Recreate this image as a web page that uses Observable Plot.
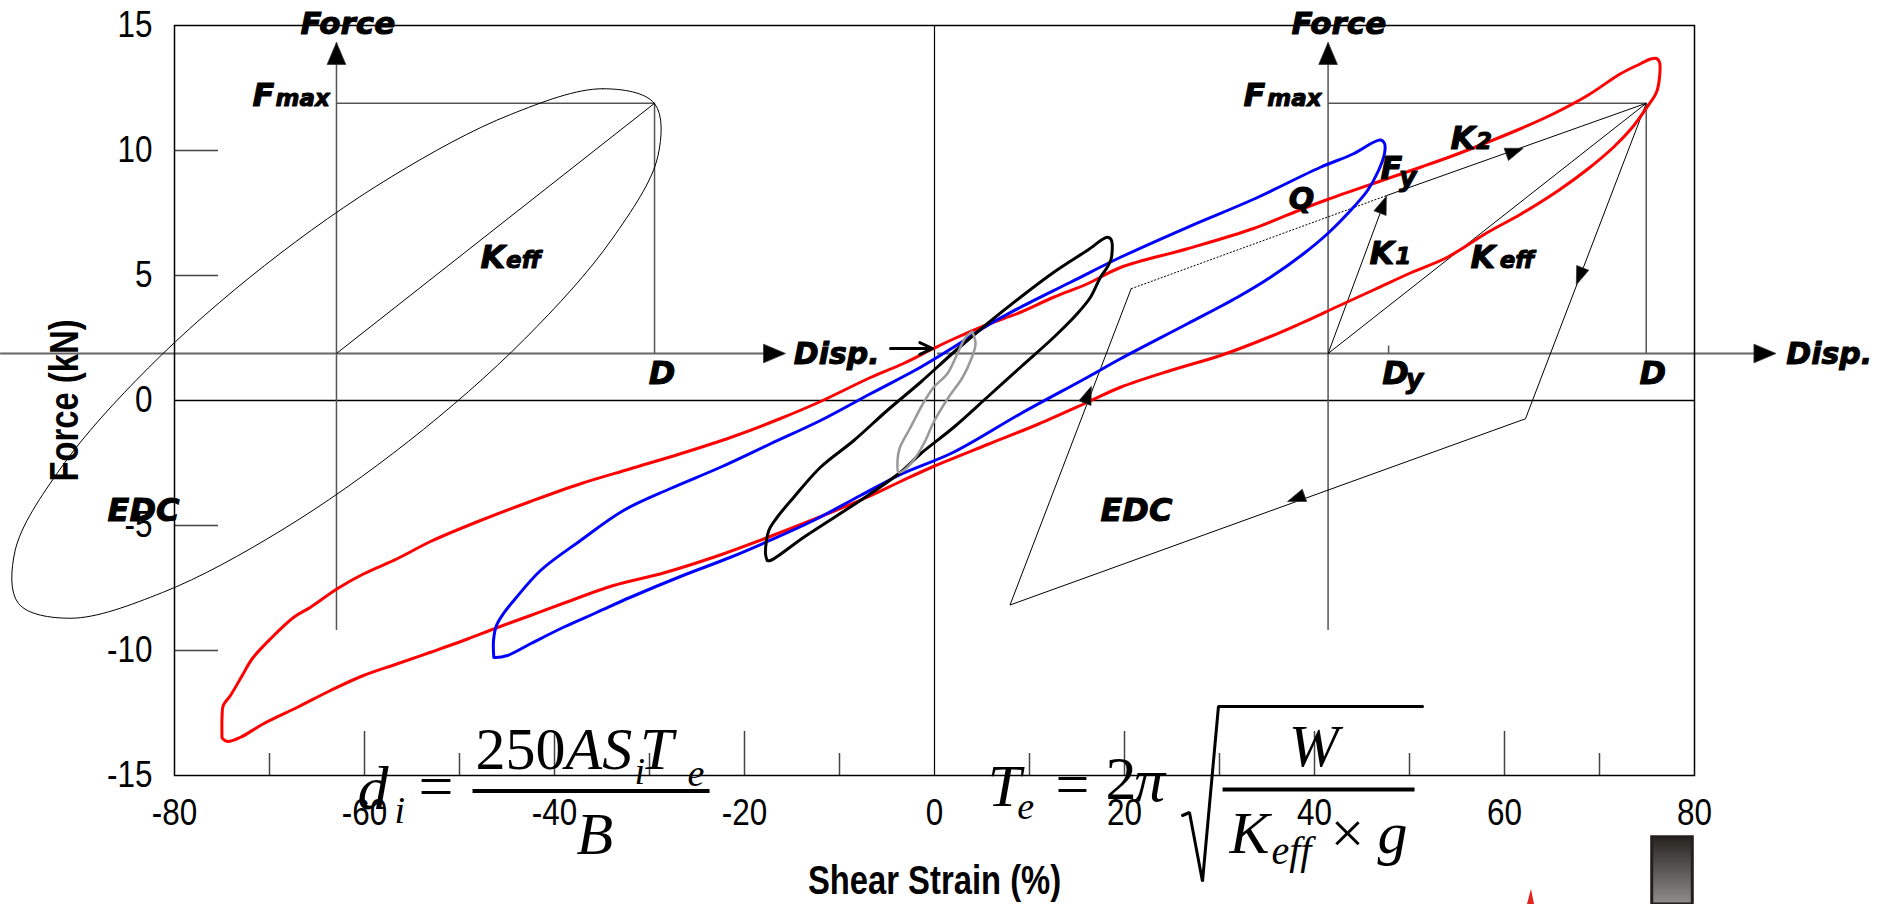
<!DOCTYPE html>
<html>
<head>
<meta charset="utf-8">
<script src="https://cdn.jsdelivr.net/npm/d3@7"></script>
<script src="https://cdn.jsdelivr.net/npm/@observablehq/plot@0.6"></script>
<style>
  html, body { margin: 0; padding: 0; background: #fff; }
  svg { display: block; }
</style>
</head>
<body>
<div id="chart"></div>
<script>
// ---------- DATA ----------
const xTicks = [-80, -60, -40, -20, 0, 20, 40, 60, 80];
const yTicks = [-15, -10, -5, 0, 5, 10, 15];
const xMajorInner = [-60, -40, -20, 20, 40, 60];
const xMinorInner = [-70, -50, -30, -10, 10, 30, 50, 70];
const yInner = [-10, -5, 5, 10];

// hysteresis loops: [shear strain %, force kN]
const redLoop = [
  [-75.0,-13.48],[-74.99,-12.6],[-74.87,-12.2],[-74.11,-11.8],[-72.87,-11.0],[-71.82,-10.33],[-69.89,-9.53],
  [-67.44,-8.67],[-65.68,-8.27],[-62.87,-7.53],[-60.07,-6.93],[-56.56,-6.33],[-53.05,-5.64],[-47.79,-4.8],
  [-42.53,-4.04],[-37.26,-3.33],[-32.0,-2.73],[-26.74,-2.13],[-21.47,-1.48],[-16.21,-0.72],[-12.0,-0.04],
  [-6.74,0.92],[-3.26,1.48],[-0.21,2.06],[2.0,2.46],[5.58,3.04],[9.05,3.53],[12.53,4.13],[16.11,4.67],
  [19.58,5.32],[26.63,6.07],[33.58,6.88],[38.84,7.68],[41.37,8.04],[46.95,8.78],[51.16,9.33],[54.63,9.8],
  [58.21,10.33],[61.68,10.87],[65.16,11.47],[68.74,12.2],[72.21,13.07],[74.32,13.47],[75.37,13.66],
  [76.0,13.68],[76.32,13.53],[76.32,12.93],[76.0,12.33],
  [75.0,11.73],[73.47,10.93],[71.47,10.13],[68.84,9.28],[65.68,8.4],[61.79,7.47],[58.21,6.72],[54.0,5.73],
  [50.21,5.12],[46.32,4.44],[42.42,3.76],[38.53,3.08],[35.37,2.56],[30.11,1.8],[24.84,1.2],[19.58,0.53],
  [16.11,-0.07],[10.84,-0.96],[5.58,-1.76],[-0.11,-2.64],[-3.58,-3.24],[-7.47,-3.93],[-12.74,-4.76],
  [-17.58,-5.48],[-23.26,-6.27],[-28.53,-6.9],[-33.79,-7.4],[-38.84,-8.08],[-42.53,-8.6],[-46.0,-9.08],
  [-49.58,-9.6],[-53.05,-10.07],[-56.53,-10.53],[-60.11,-11.0],[-63.58,-11.6],[-67.05,-12.27],
  [-70.63,-12.93],[-73.05,-13.47],[-74.42,-13.64],[-74.95,-13.52],[-75.0,-13.48]
];
const blueLoop = [
  [-46.39,-10.27],[-46.42,-9.6],[-46.11,-9.0],[-45.37,-8.52],[-44.28,-8.0],[-41.47,-6.8],[-37.26,-5.6],
  [-32.74,-4.4],[-27.79,-3.52],[-22.53,-2.67],[-17.26,-1.73],[-12.0,-0.8],[-6.74,0.27],[-1.47,1.33],
  [2.0,2.13],[5.58,3.0],[9.05,3.73],[14.32,4.73],[19.58,5.73],[26.63,6.93],[33.58,8.05],[40.63,9.33],
  [44.11,9.87],[46.21,10.33],[46.95,10.42],[47.37,10.28],[47.37,9.88],[46.74,9.2],[45.58,8.4],[43.47,7.47],
  [41.37,6.67],[38.84,5.87],[35.37,4.93],[31.89,4.13],[26.63,3.07],[19.58,1.67],[16.11,0.93],[9.05,-0.53],
  [2.0,-2.07],[-3.58,-2.96],[-7.79,-3.8],[-12.74,-4.8],[-17.58,-5.64],[-21.47,-6.27],[-26.74,-7.04],
  [-32.0,-7.87],[-35.51,-8.47],[-39.05,-9.07],[-42.53,-9.73],[-44.95,-10.2],[-46.21,-10.28],[-46.39,-10.27]
];
const blackLoop = [
  [-17.61,-6.4],[-17.79,-6.13],[-17.44,-5.2],[-16.56,-4.67],[-14.81,-3.87],[-12.0,-2.67],[-8.49,-1.6],
  [-4.98,-0.4],[-1.47,0.73],[2.03,1.93],[5.55,3.07],[9.05,4.13],[12.56,5.13],[16.07,6.0],[18.18,6.53],
  [18.6,6.43],[18.6,5.67],[18.18,5.33],[17.47,4.93],[16.42,4.13],[15.02,3.47],[12.56,2.53],[9.05,1.33],
  [5.55,0.13],[2.03,-1.07],[-1.47,-2.13],[-3.58,-2.87],[-6.74,-3.73],[-10.24,-4.6],[-13.76,-5.47],
  [-17.26,-6.4],[-17.61,-6.4]
];
const grayLoop = [
  [3.97,2.76],[4.32,2.28],[3.89,1.68],[2.95,0.92],[1.47,0.12],[-0.11,-0.88],[-0.95,-1.6],[-2.0,-2.28],
  [-3.26,-2.8],[-3.79,-2.88],[-3.89,-2.4],[-3.68,-1.92],[-2.53,-1.08],[-1.26,-0.16],[-0.11,0.52],
  [1.37,1.08],[2.42,1.88],[3.26,2.52],[3.97,2.76]
];

// schematic (left: elliptical loop, right: bilinear loop)
const originL = [-62.95, 1.88], peakL = [-29.47, 11.89];
const originR = [41.43, 1.88], peakR = [74.92, 11.89];
const yieldPt = [47.6, 8.2];
const unloadPath = [[74.92, 11.89], [62.21, -0.73], [7.95, -8.18], [20.7, 4.47]];
const ellipse = [
  [-29.48,11.88],[-34.92,12.47],[-44.63,11.44],[-57.12,8.96],[-70.51,5.40],[-82.76,1.30],[-91.96,-2.70],
  [-96.78,-6.01],[-96.42,-8.12],[-90.98,-8.71],[-81.26,-7.68],[-68.78,-5.20],[-55.39,-1.64],[-43.14,2.46],
  [-33.94,6.46],[-29.12,9.77]
];
const axisTopY = 14.3, axisBottomY = -9.2;
const dispAxisL = [-98.3, -16.0], dispAxisR = [0.3, 87.5];

const arrowHeads = [
  {x: -62.95, y: 13.75, a: 0, r: 11}, {x: 41.43, y: 13.75, a: 0, r: 11},
  {x: -17.19, y: 1.88, a: 90, r: 11}, {x: 87.07, y: 1.88, a: 90, r: 11},
  {x: 47.13, y: 7.73, a: 20.6, r: 9}, {x: 60.81, y: 9.93, a: 70.4, r: 9},
  {x: 68.0, y: 5.07, a: 200.9, r: 9}, {x: 38.32, y: -3.88, a: 250.1, r: 9},
  {x: 16.07, y: 0.13, a: 20.9, r: 9}
];

const labels = [
  {t: "Force", x: -66.74, y: 14.68, s: 31}, {t: "Force", x: 37.58, y: 14.68, s: 31},
  {t: "F", x: -71.79, y: 11.8, s: 32}, {t: "max", x: -69.37, y: 11.8, s: 23},
  {t: "F", x: 32.53, y: 11.8, s: 32}, {t: "max", x: 35.02, y: 11.8, s: 23},
  {t: "K", x: -47.79, y: 5.32, s: 32}, {t: "eff", x: -45.1, y: 5.32, s: 23},
  {t: "K", x: 56.42, y: 5.32, s: 32}, {t: "eff", x: 59.5, y: 5.32, s: 23},
  {t: "K", x: 45.79, y: 5.47, s: 32}, {t: "1", x: 48.5, y: 5.47, s: 23},
  {t: "K", x: 54.32, y: 10.07, s: 32}, {t: "2", x: 57.0, y: 10.07, s: 23},
  {t: "F", x: 46.95, y: 8.87, s: 32}, {t: "y", x: 48.9, y: 8.6, s: 27},
  {t: "Q", x: 37.29, y: 7.67, s: 30},
  {t: "D", x: 47.13, y: 0.67, s: 32}, {t: "y", x: 49.6, y: 0.5, s: 27},
  {t: "D", x: 74.21, y: 0.67, s: 32}, {t: "D", x: -30.07, y: 0.67, s: 32},
  {t: "Disp.", x: -14.81, y: 1.47, s: 30}, {t: "Disp.", x: 89.66, y: 1.47, s: 30},
  {t: "EDC", x: -87.05, y: -4.8, s: 32}, {t: "EDC", x: 17.47, y: -4.8, s: 32}
];

const formulaItalic = [
  {t: "d", x: -60.74, y: -16.32, s: 62}, {t: "i", x: -56.84, y: -16.88, s: 38},
  {t: "AS", x: -38.84, y: -14.72, s: 60}, {t: "i", x: -31.58, y: -15.32, s: 38},
  {t: "T", x: -31.0, y: -14.72, s: 60}, {t: "e", x: -26.0, y: -15.4, s: 38},
  {t: "B", x: -37.68, y: -18.12, s: 60},
  {t: "T", x: 5.6, y: -16.2, s: 60}, {t: "e", x: 8.7, y: -16.72, s: 38},
  {t: "π", x: 21.0, y: -16.0, s: 62},
  {t: "W", x: 37.3, y: -14.6, s: 60},
  {t: "K", x: 31.05, y: -18.08, s: 60}, {t: "eff", x: 35.47, y: -18.52, s: 40},
  {t: "g", x: 46.63, y: -18.08, s: 60}
];
const formulaRoman = [
  {t: "=", x: -54.32, y: -16.24, s: 62}, {t: "250", x: -48.32, y: -14.72, s: 60},
  {t: "=", x: 12.74, y: -16.12, s: 60}, {t: "2", x: 18.0, y: -15.92, s: 62},
  {t: "×", x: 41.68, y: -18.08, s: 60}
];
const fractionBars = [{x1: -48.63, x2: -23.68, y: -15.62}, {x1: 30.32, x2: 50.53, y: -15.56}];
const radical = [[26.11,-16.6],[26.84,-16.48],[28.21,-19.24],[29.89,-12.24],[51.37,-12.24]];

const gradBox = [{x1: 75.55, x2: 79.82, y1: -17.47, y2: -20.16}];
const redWedge = [{x: 62.42, y: -20.16}, {x: 62.84, y: -19.56}, {x: 63.16, y: -20.16}];

// ---------- HELPERS ----------
function triSym(angleDeg, hw = 0.85) {
  const a = angleDeg * Math.PI / 180, c = Math.cos(a), s = Math.sin(a);
  return {draw(ctx, size) {
    const r = Math.sqrt(size / Math.PI);
    const pts = [[0, -1.3 * r], [hw * r, 0.7 * r], [-hw * r, 0.7 * r]];
    pts.forEach(([x, y], i) => {
      const X = x * c - y * s, Y = x * s + y * c;
      i ? ctx.lineTo(X, Y) : ctx.moveTo(X, Y);
    });
    ctx.closePath();
  }};
}
const px = d => d[0], py = d => d[1];
const boldItalic = {fontFamily: "'DejaVu Sans', sans-serif", fontWeight: "bold", fontStyle: "italic"};
const sans = "'Liberation Sans', Arial, sans-serif";
const serif = "'Liberation Serif', 'Times New Roman', serif";

const chart = Plot.plot({
  width: 1878, height: 904,
  marginLeft: 174, marginRight: 184, marginTop: 25, marginBottom: 129,
  x: {domain: [-80, 80]},
  y: {domain: [-15, 15]},
  style: {background: "white", overflow: "visible"},
  marks: [
    Plot.rect(gradBox, {x1: "x1", x2: "x2", y1: "y1", y2: "y2", fill: "url(#boxGrad)", stroke: "#231f1c", strokeWidth: 3}),
    Plot.areaY(redWedge, {x: "x", y1: () => -20.16, y2: "y", fill: "#e3231f"}),

    Plot.ruleY(yInner, {x1: -80, x2: -75.37, stroke: "#444", strokeWidth: 1.5}),
    Plot.ruleX(xMajorInner, {y1: -15, y2: -13.24, stroke: "#444", strokeWidth: 1.5}),
    Plot.ruleX(xMinorInner, {y1: -15, y2: -14.12, stroke: "#444", strokeWidth: 1.5}),
    Plot.ruleY([0], {x1: -80, x2: 80, stroke: "black", strokeWidth: 1.5}),
    Plot.ruleX([0], {y1: -15, y2: 15, stroke: "black", strokeWidth: 1.2}),

    Plot.ruleX([originL[0], originR[0]], {y1: axisBottomY, y2: axisTopY, stroke: "#555", strokeWidth: 1.5}),
    Plot.ruleY([originL[1]], {x1: dispAxisL[0], x2: dispAxisL[1], stroke: "#666", strokeWidth: 2}),
    Plot.ruleY([originR[1]], {x1: dispAxisR[0], x2: dispAxisR[1], stroke: "#666", strokeWidth: 2}),
    Plot.link([{x1: originL[0], x2: peakL[0], y: peakL[1]}, {x1: originR[0], x2: peakR[0], y: peakR[1]}],
      {x1: "x1", x2: "x2", y1: "y", y2: "y", stroke: "#555", strokeWidth: 1.5}),
    Plot.link([{x: peakL[0], y1: originL[1], y2: peakL[1]}, {x: peakR[0], y1: originR[1], y2: peakR[1]}],
      {x1: "x", x2: "x", y1: "y1", y2: "y2", stroke: "#555", strokeWidth: 1.5}),
    Plot.link([{x: 47.8, y1: 1.88, y2: 2.2}], {x1: "x", x2: "x", y1: "y1", y2: "y2", stroke: "#555", strokeWidth: 1.5}),
    Plot.link([
      {x1: originL[0], y1: originL[1], x2: peakL[0], y2: peakL[1]},
      {x1: originR[0], y1: originR[1], x2: peakR[0], y2: peakR[1]},
      {x1: originR[0], y1: originR[1], x2: yieldPt[0], y2: yieldPt[1]},
      {x1: yieldPt[0], y1: yieldPt[1], x2: peakR[0], y2: peakR[1]}
    ], {x1: "x1", y1: "y1", x2: "x2", y2: "y2", stroke: "black", strokeWidth: 1}),
    Plot.line(unloadPath, {x: px, y: py, stroke: "black", strokeWidth: 1}),
    Plot.link([{x1: unloadPath[3][0], y1: unloadPath[3][1], x2: yieldPt[0], y2: yieldPt[1]}],
      {x1: "x1", y1: "y1", x2: "x2", y2: "y2", stroke: "black", strokeWidth: 1, strokeDasharray: "2,1.5"}),
    Plot.line(ellipse, {x: px, y: py, curve: "catmull-rom-closed", stroke: "black", strokeWidth: 1}),

    Plot.line(redLoop, {x: px, y: py, stroke: "#ff0000", strokeWidth: 3, curve: "catmull-rom"}),
    Plot.line(blueLoop, {x: px, y: py, stroke: "#0000ff", strokeWidth: 3, curve: "catmull-rom"}),
    Plot.line(blackLoop, {x: px, y: py, stroke: "black", strokeWidth: 3, curve: "catmull-rom"}),
    Plot.line(grayLoop, {x: px, y: py, stroke: "#999", strokeWidth: 2.5, curve: "catmull-rom"}),

    ...arrowHeads.map(a => Plot.dot([a], {x: "x", y: "y", r: a.r, symbol: triSym(a.a, a.r > 10 ? 0.85 : 0.72), fill: "black", stroke: "#333", strokeWidth: 0.8})),
    Plot.arrow([{x1: -4.63, x2: -0.21, y: 2.08}], {x1: "x1", x2: "x2", y1: "y", y2: "y", stroke: "black", strokeWidth: 3, headLength: 14, headAngle: 50}),

    Plot.text(labels, {x: "x", y: "y", text: "t", fontSize: "s", textAnchor: "start", lineAnchor: "bottom",
      ...boldItalic, fill: "black", stroke: "black", strokeWidth: 1}),

    Plot.frame({stroke: "black", strokeWidth: 1.5}),

    Plot.axisX(xTicks, {tickSize: 0, tickPadding: 23, fontSize: 37, fontFamily: sans, tickFormat: d => String(d), label: null}),
    Plot.axisY(yTicks, {tickSize: 0, tickPadding: 22, fontSize: 37, fontFamily: sans, tickFormat: d => String(d), label: null}),
    Plot.text(["Force (kN)"], {x: -91.47, y: 0, text: d => d, rotate: -90, fontSize: 40, fontWeight: "bold", fontFamily: sans, lineAnchor: "middle"}),
    Plot.text(["Shear Strain (%)"], {x: 0, y: -19.72, text: d => d, fontSize: 40, fontWeight: "bold", fontFamily: sans, lineAnchor: "bottom"}),

    Plot.link(fractionBars, {x1: "x1", x2: "x2", y1: "y", y2: "y", stroke: "black", strokeWidth: 4}),
    Plot.line(radical, {x: px, y: py, stroke: "black", strokeWidth: 3, strokeLinejoin: "miter"}),
    Plot.text(formulaItalic, {x: "x", y: "y", text: "t", fontSize: "s", textAnchor: "start", lineAnchor: "bottom",
      fontFamily: serif, fontStyle: "italic", fill: "black"}),
    Plot.text(formulaRoman, {x: "x", y: "y", text: "t", fontSize: "s", textAnchor: "start", lineAnchor: "bottom",
      fontFamily: serif, fill: "black"})
  ]
});

// gradient for the cropped box fragment
const ns = "http://www.w3.org/2000/svg";
const defs = document.createElementNS(ns, "defs");
defs.innerHTML = '<linearGradient id="boxGrad" x1="0" y1="0" x2="0" y2="1"><stop offset="0" stop-color="#27231f"/><stop offset="1" stop-color="#8e8e8e"/></linearGradient>';
chart.insertBefore(defs, chart.firstChild);

// condensed look for axis texts (narrow sans): horizontal squeeze around each anchor
function squeeze(el, k) {
  const t = el.getAttribute("transform");
  if (t) el.setAttribute("transform", t + ` scale(${k},1)`);
  else {
    const x = +el.getAttribute("x") || 0, y = +el.getAttribute("y") || 0;
    el.setAttribute("transform", `translate(${x},${y}) scale(${k},1) translate(${-x},${-y})`);
  }
}
chart.querySelectorAll('g[aria-label="x-axis tick label"] text, g[aria-label="y-axis tick label"] text').forEach(el => squeeze(el, 0.85));
chart.querySelectorAll("text").forEach(el => {
  const s = el.textContent;
  if (s === "Force (kN)" || s === "Shear Strain (%)") squeeze(el, 0.82);
});
document.getElementById("chart").appendChild(chart);
</script>
</body>
</html>
